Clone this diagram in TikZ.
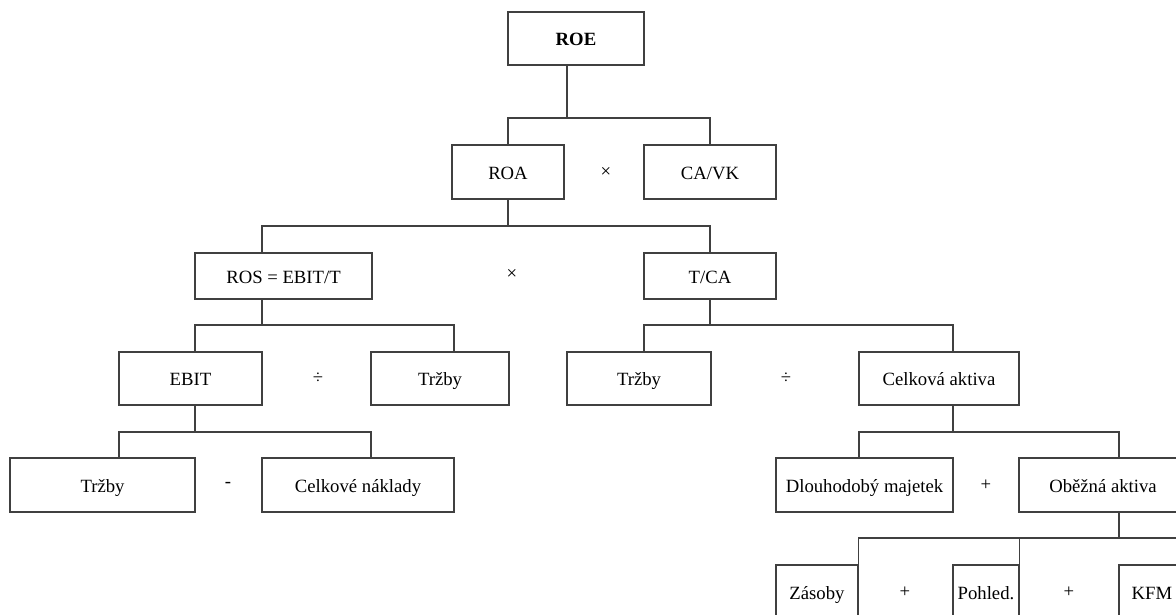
\documentclass[tikz,border=0pt]{standalone}
\usepackage{fontspec}
\setmainfont{Liberation Serif}

\begin{document}
\begin{tikzpicture}[x=1pt, y=-1pt,
        box/.style={draw=black!75, line width=1.2pt, inner sep=0pt,
            text height=15pt, text depth=1pt, font=\fontsize{18.7}{22}\selectfont},
        op/.style={inner sep=0pt, font=\fontsize{18.7}{22}\selectfont},
        line/.style={draw=black!75, line width=1.2pt}]
        \useasboundingbox (0,0) rectangle (1176,614);
        \clip (0,0) rectangle (1176,614);
        % 第一层和第二层
        \node[box, minimum width=136, minimum height=53] (roe) at (576,38.5) {\textbf{ROE}};
        \node[box, minimum width=112, minimum height=54] (roa) at (508,172) {ROA};
        \node[op] (krat1) at (606,172) {×};
        \node[box, minimum width=132, minimum height=54] (cavk) at (710,172) {CA/VK};
        % 第三层
        \node[box, minimum width=177, minimum height=46] (ros) at (283.5,276) {ROS = EBIT/T};
        \node[op] (krat2) at (512,274) {×};
        \node[box, minimum width=132, minimum height=46] (tca) at (710,276) {T/CA};
        % 第四层
        \node[box, minimum width=143, minimum height=53] (ebit) at (190.5,378.5) {EBIT};
        \node[op] (del1) at (318,378.5) {÷};
        \node[box, minimum width=138, minimum height=53] (trzbyA) at (440,378.5) {Tržby};
        \node[box, minimum width=144, minimum height=53] (trzbyB) at (639,378.5) {Tržby};
        \node[op] (del2) at (786,378.5) {÷};
        \node[box, minimum width=160, minimum height=53] (aktiva) at (939,378.5) {Celková aktiva};
        % 第五层
        \node[box, minimum width=185, minimum height=54] (trzbyC) at (102.5,485) {Tržby};
        \node[op] (minus) at (228,485) {-};
        \node[box, minimum width=192, minimum height=54] (naklady) at (358,485) {Celkové náklady};
        \node[box, minimum width=177, minimum height=54] (majetek) at (864.5,485) {Dlouhodobý majetek};
        \node[op] (plus1) at (986,485) {+};
        \node[box, minimum width=168, minimum height=54] (obezna) at (1103,485) {Oběžná aktiva};
        % 第六层
        \node[box, minimum width=82, minimum height=54] (zasoby) at (817,592) {Zásoby};
        \node[op] (plus2) at (905,592) {+};
        \node[box, minimum width=66, minimum height=54] (pohled) at (986,592) {Pohled.};
        \node[op] (plus3) at (1069,592) {+};
        \node[box, minimum width=66, minimum height=54] (kfm) at (1152,592) {KFM};
        % 连线
        \coordinate (j1) at (567,118);
        \coordinate (j2) at (508,226);
        \coordinate (j3) at (262,325);
        \coordinate (j4) at (710,325);
        \coordinate (j5) at (195,432);
        \coordinate (j6) at (953,432);
        \coordinate (j7) at (1119,538);
        \coordinate (dalsi) at (1200,538);
        \draw[line] ([xshift=-9]roe.south) -- (j1);
        \draw[line] (roa.north) |- (j1) -| (cavk.north);
        \draw[line] (roa.south) -- (j2);
        \draw[line] ([xshift=-21.5]ros.north) |- (j2) -| (tca.north);
        \draw[line] ([xshift=-21.5]ros.south) -- (j3);
        \draw[line] ([xshift=4.5]ebit.north) |- (j3) -| ([xshift=14]trzbyA.north);
        \draw[line] (tca.south) -- (j4);
        \draw[line] ([xshift=5]trzbyB.north) |- (j4) -| ([xshift=14]aktiva.north);
        \draw[line] ([xshift=4.5]ebit.south) -- (j5);
        \draw[line] ([xshift=16.5]trzbyC.north) |- (j5) -| ([xshift=13]naklady.north);
        \draw[line] ([xshift=14]aktiva.south) -- (j6);
        \draw[line] ([xshift=-5.5]majetek.north) |- (j6) -| ([xshift=16]obezna.north);
        \draw[line] ([xshift=16]obezna.south) -- (j7);
        \draw[line] (zasoby.north east) |- (j7) -- (dalsi);
        \draw[line] (pohled.north east) -- (pohled.north east |- j7);
    \end{tikzpicture}
\end{document}
